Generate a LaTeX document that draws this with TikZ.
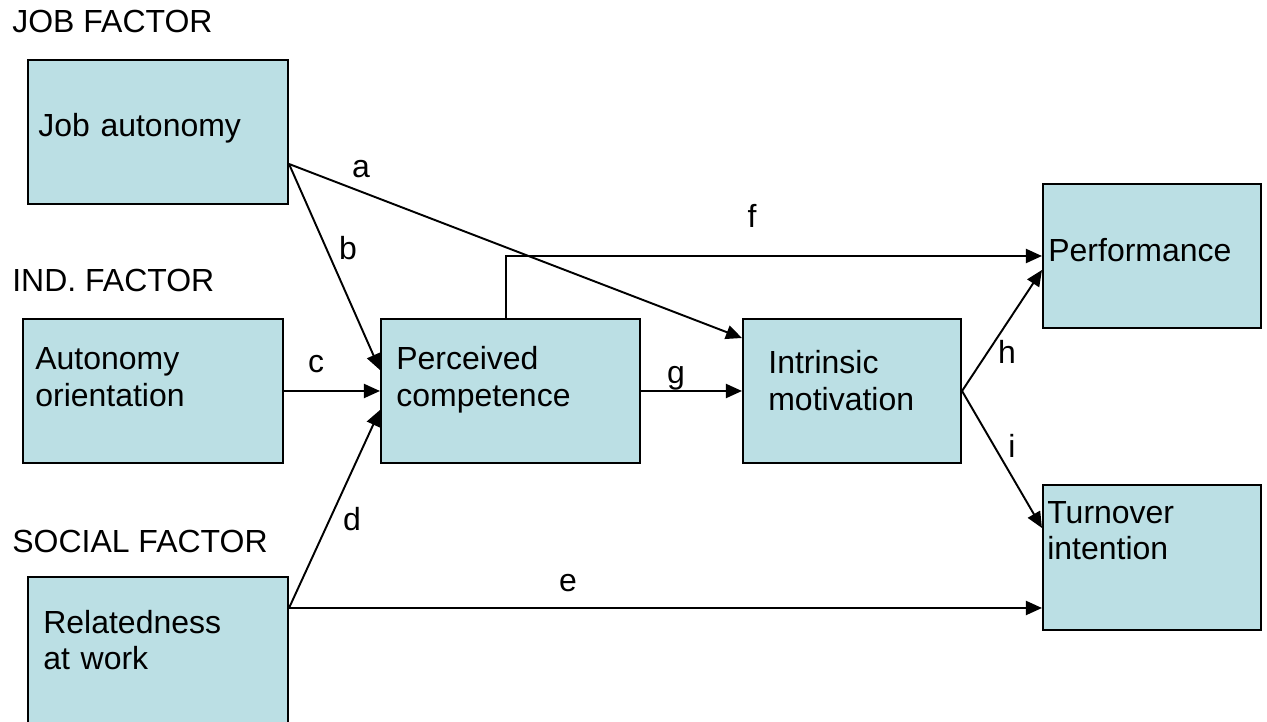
\documentclass[tikz,border=0pt]{standalone}
\usepackage{fontspec}
\setmainfont{Liberation Sans}
\usepackage{tikz}
\usetikzlibrary{arrows.meta,positioning}
\usepackage{xcolor}
\definecolor{boxblue}{RGB}{187,223,228}
\tikzstyle{factorbox} = [draw=black, line width=1.2pt, fill=boxblue, inner sep=0pt]
\tikzstyle{boxtext} = [inner sep=0pt, text width=5cm, align=left, anchor=base west, font=\fontsize{18.2pt}{21pt}\selectfont]
\tikzstyle{heading} = [inner sep=0pt, anchor=base west, font=\fontsize{18.2pt}{21pt}\selectfont]
\tikzstyle{pathlabel} = [inner sep=0pt, anchor=base, font=\fontsize{18.2pt}{21pt}\selectfont]
\tikzstyle{arrow} = [line width=1.1pt, -{Triangle[length=0.32cm, width=0.28cm]}]

\begin{document}
\begin{tikzpicture}[x=0.02cm, y=-0.02cm]
    \useasboundingbox (0,0) rectangle (1267,722);

    % Headings
    \node[heading] (hjob) at (12,33) {JOB FACTOR};
    \node[heading] (hind) at (12,292) {IND. FACTOR};
    \node[heading] (hsoc) at (12,552) {SOCIAL FACTOR};

    % Boxes
    \node[factorbox, minimum width=5.2cm, minimum height=2.88cm] (ja) at (158,132) {};
    \node[factorbox, minimum width=5.2cm, minimum height=2.88cm] (ao) at (153,391) {};
    \node[factorbox, minimum width=5.2cm, minimum height=2.96cm] (rw) at (158,651) {};
    \node[factorbox, minimum width=5.18cm, minimum height=2.88cm] (pc) at (510.5,391) {};
    \node[factorbox, minimum width=4.36cm, minimum height=2.88cm] (im) at (852,391) {};
    \node[factorbox, minimum width=4.36cm, minimum height=2.88cm] (pf) at (1152,256) {};
    \node[factorbox, minimum width=4.36cm, minimum height=2.9cm] (ti) at (1152,557.5) {};

    % Box texts
    \node[boxtext] (jatxt) at (38,137) {Job autonomy};
    \node[boxtext] (aotxt) at (35,370) {Autonomy\\orientation};
    \node[boxtext] (rwtxt) at (43,633) {Relatedness\\at work};
    \node[boxtext] (pctxt) at (396,370) {Perceived\\competence};
    \node[boxtext] (imtxt) at (768,374) {Intrinsic\\motivation};
    \node[boxtext] (pftxt) at (1048,262) {Performance};
    \node[boxtext] (titxt) at (1047,523) {Turnover\\intention};

    % Paths
    \draw[arrow] ([yshift=-0.64cm]ja.east) -- ([yshift=1.06cm]im.west);
    \draw[arrow] ([yshift=-0.64cm]ja.east) -- ([yshift=0.42cm]pc.west);
    \draw[arrow] (ao.east) -- (pc.west);
    \draw[arrow] ([yshift=0.86cm]rw.east) -- ([yshift=-0.38cm]pc.west);
    \draw[arrow] ([yshift=0.86cm]rw.east) -- ([yshift=-1.01cm]ti.west);
    \draw[arrow] ([xshift=-0.09cm]pc.north) |- (pf.west);
    \draw[arrow] (pc.east) -- (im.west);
    \draw[arrow] (im.east) -- ([yshift=-0.28cm]pf.west);
    \draw[arrow] (im.east) -- ([yshift=0.59cm]ti.west);

    % Path labels
    \node[pathlabel] (la) at (361,178) {a};
    \node[pathlabel] (lb) at (348,260) {b};
    \node[pathlabel] (lc) at (316,373) {c};
    \node[pathlabel] (ld) at (352,530) {d};
    \node[pathlabel] (le) at (568,591) {e};
    \node[pathlabel] (lf) at (752,228) {f};
    \node[pathlabel] (lg) at (676,384) {g};
    \node[pathlabel] (lh) at (1007,364) {h};
    \node[pathlabel] (li) at (1012,458) {i};
\end{tikzpicture}
\end{document}
